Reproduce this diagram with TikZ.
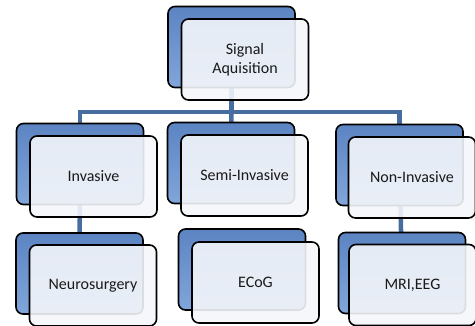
\documentclass[tikz,border=0pt]{standalone}
\usepackage{fontspec}
\setmainfont{Carlito}
\usetikzlibrary{positioning,backgrounds}

\definecolor{linkblue}{RGB}{70,108,160}
\definecolor{backtop}{RGB}{92,132,194}
\definecolor{backbot}{RGB}{128,166,218}
\definecolor{frontfill}{RGB}{244,246,250}

\tikzset{
  backbox/.style={draw=black, line width=1.6pt, rounded corners=7pt,
    top color=backtop, bottom color=backbot,
    minimum width=127pt, minimum height=81pt, inner sep=0pt},
  frontbox/.style={draw=black, line width=1.6pt, rounded corners=7pt,
    fill=frontfill, fill opacity=0.9, text opacity=1,
    minimum width=127pt, minimum height=81pt, inner sep=2pt, align=center,
    font=\fontsize{16}{19}\selectfont, text=black!90},
  link/.style={draw=linkblue, line width=4.5pt},
}

\begin{document}
\begin{tikzpicture}[x=1pt, y=-1pt]
    \useasboundingbox (0,0) rectangle (475,326);

    % top
    \node[backbox] (sigB) at (231.5,47) {};
    \node[frontbox] (sigF) at ([shift={(13.5,12.5)}]sigB) {Signal\\Aquisition};

    % second row
    \node[backbox] (invB) at (80,164) {};
    \node[frontbox] (invF) at ([shift={(13.5,12.5)}]invB) {Invasive};
    \node[backbox] (semiB) at (231,163) {};
    \node[frontbox] (semiF) at ([shift={(13.5,12.5)}]semiB) {Semi-Invasive};
    \node[backbox] (nonB) at (399.5,165) {};
    \node[frontbox] (nonF) at ([shift={(12.5,12.5)}]nonB) {Non-Invasive};

    % third row
    \node[backbox] (neuB) at (79.5,273.5) {};
    \node[frontbox] (neuF) at ([shift={(13.5,12)}]neuB) {Neurosurgery};
    \node[backbox] (ecogB) at (242,269.5) {};
    \node[frontbox] (ecogF) at ([shift={(13.5,13)}]ecogB) {ECoG};
    \node[backbox] (mriB) at (402,273) {};
    \node[frontbox] (mriF) at ([shift={(10.5,12)}]mriB) {MRI,EEG};

    \coordinate (bar) at (232,112);

    \begin{pgfonlayer}{background}
        \draw[link] (sigB.center) -- (sigB.center |- bar) -| (invB.center);
        \draw[link] (sigB.center |- bar) -| (nonB.center);
        \draw[link] (sigB.center |- bar) -- (semiB.center);
        \draw[link] (invB.center) -- (neuB.center);
        \draw[link] (nonB.center) -- (mriB.center);
%        \draw[link] (semiB.center) -- (ecogB.center);
    \end{pgfonlayer}

\end{tikzpicture}
\end{document}
